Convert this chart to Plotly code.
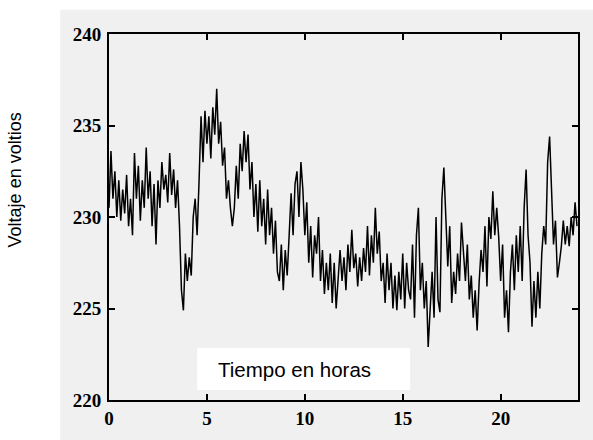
import plotly.graph_objects as go

# Voltage readings, 10 samples per hour (every 6 minutes)
h00 = [230.5, 233.6, 231.0, 232.5, 230.0, 232.0, 229.8, 231.5, 230.2, 232.3]
h01 = [229.5, 231.0, 229.0, 233.5, 231.0, 232.8, 229.8, 232.0, 230.5, 233.8]
h02 = [231.0, 232.5, 229.5, 231.8, 228.5, 232.0, 230.5, 233.0, 231.5, 232.3]
h03 = [230.8, 233.5, 231.2, 232.6, 230.5, 232.0, 229.5, 226.0, 224.9, 228.0]
h04 = [226.5, 227.8, 226.8, 230.0, 231.0, 229.0, 232.0, 235.5, 233.0, 235.8]
h05 = [234.0, 235.5, 233.2, 236.0, 234.5, 237.0, 234.0, 235.2, 232.8, 233.8]
h06 = [231.0, 232.0, 230.5, 229.5, 230.5, 232.8, 231.0, 234.0, 232.5, 234.7]
h07 = [233.0, 234.5, 231.5, 233.0, 230.0, 231.8, 229.2, 232.0, 229.5, 231.0]
h08 = [228.5, 231.5, 229.0, 230.5, 228.0, 229.8, 227.0, 226.5, 228.5, 226.0]
h09 = [228.2, 226.8, 229.0, 231.3, 229.0, 231.8, 232.5, 230.0, 233.0, 231.5]
h10 = [229.0, 230.8, 227.5, 229.5, 226.7, 229.0, 228.0, 230.0, 226.5, 228.2]
h11 = [225.8, 227.5, 226.0, 228.0, 225.3, 227.5, 225.0, 226.8, 228.2, 226.5]
h12 = [227.8, 226.0, 228.5, 227.0, 229.3, 227.2, 228.0, 226.2, 227.8, 226.5]
h13 = [228.3, 227.0, 229.5, 226.8, 229.0, 227.5, 230.5, 228.0, 229.2, 226.5]
h14 = [227.5, 225.3, 228.0, 226.0, 227.5, 225.0, 226.8, 224.9, 227.0, 225.5]
h15 = [228.0, 225.0, 227.5, 226.0, 225.5, 228.5, 224.5, 229.0, 230.5, 226.0]
h16 = [227.5, 225.0, 226.5, 222.9, 225.0, 227.0, 224.5, 230.0, 225.5, 224.8]
h17 = [231.0, 232.7, 230.0, 227.3, 229.5, 225.3, 227.0, 225.8, 228.0, 226.5]
h18 = [229.7, 228.0, 226.5, 228.5, 225.5, 226.8, 224.5, 226.0, 223.8, 226.4]
h19 = [228.2, 227.0, 229.5, 226.2, 230.0, 228.8, 231.4, 229.0, 230.5, 228.9]
h20 = [226.5, 228.5, 224.5, 226.0, 223.7, 227.0, 228.5, 226.0, 229.0, 227.0]
h21 = [229.5, 226.5, 230.5, 232.6, 229.0, 227.5, 224.0, 226.5, 224.5, 227.0]
h22 = [225.0, 228.0, 229.5, 228.5, 233.0, 234.4, 231.0, 228.5, 229.8, 226.7]
h23 = [227.5, 228.4, 229.8, 228.5, 229.5, 228.4, 230.0, 229.0, 230.8, 229.5]

hours_blocks = [h00, h01, h02, h03, h04, h05, h06, h07, h08, h09, h10, h11,
                h12, h13, h14, h15, h16, h17, h18, h19, h20, h21, h22, h23]

voltage = [v for block in hours_blocks for v in block]
time_h = [round(i * 0.1, 2) for i in range(len(voltage))]

x_ticks = [0, 5, 10, 15, 20]
y_ticks = [220, 225, 230, 235, 240]

fig = go.Figure()
fig.add_trace(go.Scatter(
    x=time_h, y=voltage, mode="lines",
    line=dict(color="black", width=1.5, shape="linear"),
    showlegend=False, hoverinfo="skip",
))

axis_common = dict(
    showline=True, linecolor="black", linewidth=2, mirror="ticks",
    ticks="inside", ticklen=6, tickwidth=1.5, tickcolor="black",
    showgrid=False, zeroline=False,
    tickfont=dict(family="Liberation Serif", size=19, color="black", weight="bold"),
)

fig.update_layout(
    width=593, height=440,
    margin=dict(l=109, r=15, t=34, b=40),
    paper_bgcolor="white",
    plot_bgcolor="rgba(0,0,0,0)",
    xaxis=dict(range=[0, 23.95], tickvals=x_ticks, ticklabelstandoff=0, **axis_common),
    yaxis=dict(range=[220, 240], tickvals=y_ticks, ticklabelstandoff=2, **axis_common),
    shapes=[
        # light speckled scan background
        dict(type="rect", xref="paper", yref="paper", layer="below",
             x0=-0.104, x1=1.04, y0=-0.11, y1=1.066,
             fillcolor="#f0f0f0", line=dict(width=0)),
        # white label box
        dict(type="rect", xref="paper", yref="paper", layer="below",
             x0=0.188, x1=0.642, y0=0.027, y1=0.142,
             fillcolor="white", line=dict(width=0)),
    ],
    annotations=[
        dict(text="Tiempo en horas", xref="paper", yref="paper",
             x=0.396, y=0.082, xanchor="center", yanchor="middle",
             showarrow=False,
             font=dict(family="Liberation Sans", size=20.5, color="black")),
        dict(text="Voltaje en voltios", xref="paper", yref="paper",
             x=-0.2004, y=0.60, xanchor="center", yanchor="middle",
             showarrow=False, textangle=-90,
             font=dict(family="Liberation Sans", size=18, color="black")),
    ],
)

fig.write_html("out.html")
